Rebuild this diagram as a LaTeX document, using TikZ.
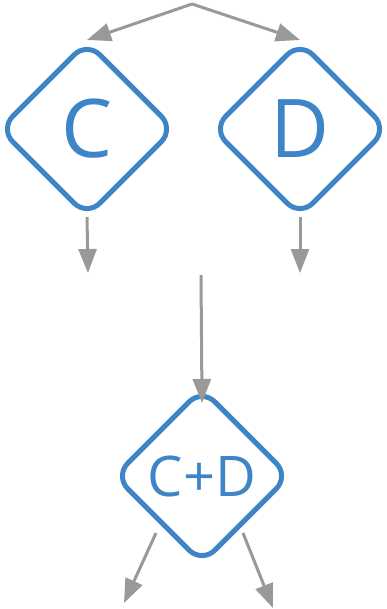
\documentclass[tikz,border=0pt]{standalone}
\usepackage{fontspec}
\setmainfont{Open Sans}
\usetikzlibrary{shapes.geometric,arrows.meta}
\definecolor{nodeblue}{HTML}{3D85C6}
\definecolor{linkgray}{HTML}{999999}
\tikzset{
  choice/.style={shape=diamond, draw=nodeblue, line width=5pt, rounded corners=18pt,
    minimum width=174pt, minimum height=174pt, aspect=1, inner sep=0pt, outer sep=0pt,
    text=nodeblue},
  bigtext/.style={font=\fontsize{81}{81}\selectfont},
  midtext/.style={font=\fontsize{56}{56}\selectfont},
  link/.style={draw=linkgray, line width=3pt, -{Triangle[length=24pt,width=18pt]}}
}
\begin{document}
\begin{tikzpicture}[x=1pt,y=-1pt]
  \useasboundingbox (0,0) rectangle (386,609);
  % decision nodes
  \node[choice, bigtext] (C) at (87,129) {C};
  \node[choice, bigtext] (D) at (300,129) {D};
  \node[choice, midtext] (CD) at (202,476) {C+D};
  % loose ends of the connectors
  \coordinate (top) at (192,4);
  \coordinate (cout) at (88,273);
  \coordinate (dout) at (300,273);
  \coordinate (cdin) at (201,275);
  \coordinate (cdoutl) at (124,603);
  \coordinate (cdoutr) at (273,608);
  % connectors
  \draw[link] (top) -- ([yshift=2pt]C.north);
  \draw[link] (top) -- ([yshift=2pt]D.north);
  \draw[link] ([yshift=-1pt]C.south) -- (cout);
  \draw[link] ([yshift=-1pt]D.south) -- (dout);
  \draw[link] (cdin) -- ([yshift=-14pt]CD.north);
  \draw[link] ([xshift=-46pt,yshift=30pt]CD.south) -- (cdoutl);
  \draw[link] ([xshift=41pt,yshift=30pt]CD.south) -- (cdoutr);
\end{tikzpicture}
\end{document}
